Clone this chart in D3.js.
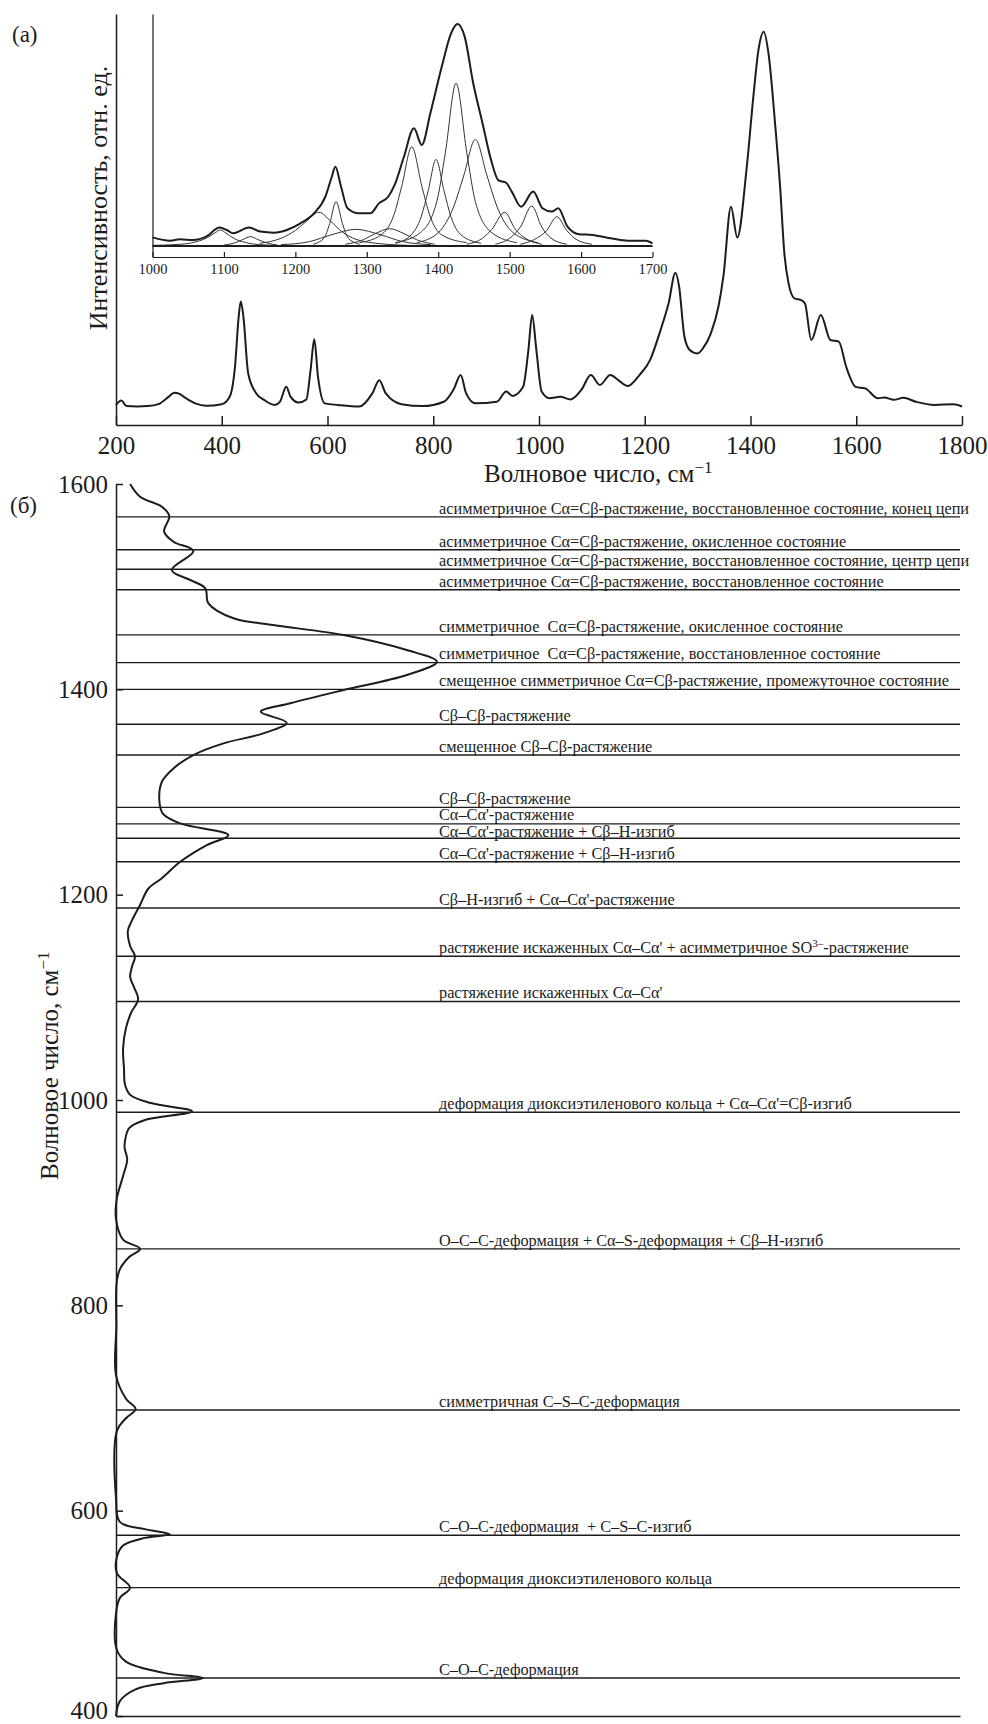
<!DOCTYPE html>
<html><head><meta charset="utf-8">
<script src="https://cdn.jsdelivr.net/npm/d3@7"></script>
<style>
body{margin:0;background:#fff;}
svg{display:block;font-family:"Liberation Serif","Times New Roman",serif;}
</style></head><body>
<svg id="c" width="988" height="1724"></svg>
<script>
// ---------- DATA ----------
// Panel (а): full Raman spectrum, [wavenumber, relative intensity]
const spectrumA = [
[200,5.1],[210,6.2],[220,4.8],[240,4.7],[260,4.8],[280,5.3],[300,7.2],[310,8.2],[320,7.9],[330,7.0],[350,5.5],[370,4.9],[400,5.3],[415,7.2],[425,14.8],[432,27.5],[436,31.4],[441,27.5],[450,13.1],[465,8.1],[480,6.4],[500,5.1],[510,5.9],[522,9.7],[530,7.2],[545,5.7],[560,6.5],[568,14.0],[575,21.8],[582,12.3],[595,5.5],[620,5.1],[660,4.7],[685,8.1],[698,11.4],[710,8.1],[740,5.3],[780,4.8],[820,5.9],[838,8.9],[852,12.7],[862,8.1],[880,5.5],[920,5.9],[938,8.5],[950,7.4],[970,9.7],[980,19.1],[987,28.0],[995,19.1],[1005,8.5],[1020,6.8],[1040,7.2],[1060,6.5],[1080,8.9],[1098,12.7],[1115,10.2],[1135,12.7],[1150,11.4],[1168,9.9],[1190,12.7],[1210,16.5],[1230,24.2],[1245,30.9],[1258,38.7],[1265,35.2],[1275,22.5],[1285,19.1],[1300,18.2],[1310,19.5],[1325,23.3],[1340,30.5],[1349,38.1],[1363,55.5],[1375,47.7],[1393,65.7],[1406,84.3],[1415,95.3],[1425,100],[1434,94.5],[1447,75.8],[1456,60.6],[1464,43.7],[1472,36.0],[1483,32.2],[1495,31.8],[1503,30.9],[1515,21.6],[1533,28.0],[1551,21.6],[1567,21.2],[1581,14.8],[1599,9.7],[1617,9.3],[1641,6.8],[1653,7.0],[1671,6.4],[1689,6.9],[1713,5.9],[1748,5.1],[1784,5.3],[1800,4.7]
];
const ticksA = [200,400,600,800,1000,1200,1400,1600,1800];

// Inset: measured spectrum 1000–1700
const insetSpectrum = [
[1000,3.9],[1025,2.4],[1038,3.0],[1057,2.7],[1075,4.2],[1094,8.3],[1104,7.2],[1113,5.7],[1135,8.3],[1151,6.5],[1170,6.0],[1188,7.2],[1207,10.2],[1226,14.7],[1242,22.2],[1251,31.2],[1256,35.7],[1264,26.7],[1273,17.0],[1289,14.7],[1305,14.7],[1317,19.2],[1330,22.2],[1339,27.5],[1352,40.2],[1366,53.0],[1377,45.5],[1389,59.8],[1405,80.8],[1418,95.8],[1427,100],[1437,94.3],[1449,73.3],[1462,55.3],[1474,38.7],[1484,29.7],[1495,28.5],[1503,24.5],[1516,17.7],[1533,24.5],[1546,17.0],[1559,15.5],[1568,17.0],[1581,8.7],[1597,5.3],[1616,5.0],[1641,3.5],[1666,2.4],[1691,2.4],[1700,1.2]
];
// Inset: fitted components
const comp1095 = [[1000,0.3],[1040,0.8],[1060,1.8],[1077,3.8],[1087,5.8],[1095,7.2],[1103,5.8],[1113,3.6],[1130,1.6],[1150,0.6],[1180,0.2]];
const comp1137 = [[1100,0.4],[1115,1.4],[1125,2.7],[1137,4.2],[1149,2.7],[1160,1.4],[1175,0.4]];
const comp1233 = [[1150,1.2],[1180,3.5],[1200,7],[1215,11],[1233,15.2],[1250,11],[1265,6.5],[1285,3],[1320,1],[1360,0.3]];
const comp1257 = [[1225,0.8],[1240,3.5],[1248,10],[1257,20],[1266,10],[1274,3.5],[1290,0.8]];
const comp1285 = [[1180,0.6],[1220,2],[1250,5],[1285,7.5],[1320,5],[1350,2],[1390,0.6]];
const comp1332 = [[1270,0.8],[1295,2.8],[1312,5.6],[1332,7.8],[1352,5.6],[1370,2.8],[1395,0.8]];
const comp1363 = [[1290,1.5],[1320,5],[1338,14],[1349,27],[1363,44.7],[1377,27],[1388,14],[1405,5],[1440,1.5]];
const comp1397 = [[1340,1.2],[1362,5],[1376,13],[1386,25],[1397,39],[1408,25],[1418,13],[1432,5],[1460,1.2]];
const comp1425 = [[1340,1.5],[1375,6],[1398,20],[1410,42],[1425,73.3],[1440,42],[1452,20],[1475,6],[1510,1.5]];
const comp1452 = [[1370,1.5],[1400,6],[1422,18],[1436,32],[1452,48],[1468,32],[1482,18],[1505,6],[1540,1.5]];
const comp1493 = [[1440,0.8],[1462,3.5],[1475,7.5],[1493,15.2],[1508,7.5],[1522,3.5],[1545,0.8]];
const comp1531 = [[1480,0.8],[1500,3.5],[1515,8.5],[1531,18],[1545,8.5],[1558,3.5],[1580,0.8]];
const comp1566 = [[1515,0.8],[1535,3],[1552,7],[1566,13.2],[1580,7],[1593,3],[1615,0.8]];
const insetComponents = [comp1095,comp1137,comp1233,comp1257,comp1285,comp1332,comp1363,comp1397,comp1425,comp1452,comp1493,comp1531,comp1566];
const ticksInset = [1000,1100,1200,1300,1400,1500,1600,1700];

// Panel (б): spectrum drawn sideways, [wavenumber, relative intensity]
const spectrumB = [
[1600,4.4],[1587.6,7.5],[1577.9,14.3],[1568.8,16.6],[1553.5,15.0],[1543.8,17.9],[1534.7,24.1],[1516.2,17.4],[1506.5,23.1],[1498.4,27.8],[1483.8,28.8],[1469.2,36.6],[1462.6,49.0],[1452.9,70.9],[1438.3,90.6],[1426.9,100],[1413.9,90.6],[1399.3,70.9],[1386.4,54.3],[1378.2,45.1],[1367.5,53.2],[1357.1,45.9],[1347.4,33.5],[1336,24.1],[1323,17.9],[1310,14.3],[1292,13.5],[1279,14.6],[1269.4,20.0],[1258,35.0],[1248.3,28.3],[1232,20.0],[1216,14.3],[1206,10.1],[1190,7.5],[1175,5.0],[1165,3.7],[1150,4.4],[1140,5.9],[1130,5.0],[1120,4.4],[1110,5.6],[1098,6.9],[1085,4.7],[1070,3.1],[1050,2.2],[1030,2.5],[1015,2.8],[1005,4.4],[997,10.9],[989,23.7],[980.5,9.0],[972.7,4.1],[960,2.8],[953,2.7],[942,3.5],[926,2.2],[903,0.2],[884,0],[864,2.2],[855,7.5],[847,4.1],[835,1.2],[822,0.2],[780,0.1],[732,0],[709,3.1],[699,6.1],[690,3.1],[678,0.3],[612,0],[589,1.2],[582,9.0],[577,16.8],[573.5,9.0],[566,2.2],[554,0.2],[539,0.3],[525,4.4],[515,1.2],[500,0],[465,0.2],[453,3.1],[442,14.9],[437,27.1],[432,14.9],[426,6.1],[414.5,1.2],[400,0]
];
const ticksB = [400,600,800,1000,1200,1400,1600];
// Band assignments
const assignWn = [1568,1536,1517,1497,1453,1426,1400,1366,1336,1285,1269,1255,1232,1187,1140,1096,988,855,698,576,525,437];
const assignText = [
"асимметричное Cα=Cβ-растяжение, восстановленное состояние, конец цепи",
"асимметричное Cα=Cβ-растяжение, окисленное состояние",
"асимметричное Cα=Cβ-растяжение, восстановленное состояние, центр цепи",
"асимметричное Cα=Cβ-растяжение, восстановленное состояние",
"симметричное  Cα=Cβ-растяжение, окисленное состояние",
"симметричное  Cα=Cβ-растяжение, восстановленное состояние",
"смещенное симметричное Cα=Cβ-растяжение, промежуточное состояние",
"Cβ–Cβ-растяжение",
"смещенное Cβ–Cβ-растяжение",
"Cβ–Cβ-растяжение",
"Cα–Cα'-растяжение",
"Cα–Cα'-растяжение + Cβ–H-изгиб",
"Cα–Cα'-растяжение + Cβ–H-изгиб",
"Cβ–H-изгиб + Cα–Cα'-растяжение",
"растяжение искаженных Cα–Cα' + асимметричное SO^{3–}-растяжение",
"растяжение искаженных Cα–Cα'",
"деформация диоксиэтиленового кольца + Cα–Cα'=Cβ-изгиб",
"O–C–C-деформация + Cα–S-деформация + Cβ–H-изгиб",
"симметричная C–S–C-деформация",
"C–O–C-деформация  + C–S–C-изгиб",
"деформация диоксиэтиленового кольца",
"C–O–C-деформация"
];

// ---------- DRAW ----------
const ink = "#1c1c1c";
const FONT = "'Liberation Serif','Times New Roman',serif";
const svg = d3.select("#c");
svg.append("rect").attr("width",988).attr("height",1724).attr("fill","#fff");

function styleAxis(g, fs, sw) {
  g.attr("font-family", FONT).attr("font-size", fs);
  g.select(".domain").attr("stroke", ink).attr("stroke-width", sw);
  g.selectAll(".tick line").attr("stroke", ink).attr("stroke-width", sw);
  g.selectAll(".tick text").attr("fill", ink);
}
// text with ^{superscript} parts
function addText(sel, str, supSize) {
  const parts = str.split(/\^\{(.*?)\}/);
  let pending = 0;
  parts.forEach((p, i) => {
    if (!p) return;
    if (i % 2 === 0) {
      const t = sel.append("tspan").text(p);
      if (pending) { t.attr("dy", pending); pending = 0; }
    } else {
      sel.append("tspan").attr("font-size", supSize).attr("dy", -supSize*0.55).text(p);
      pending = supSize*0.55;
    }
  });
}

// Panel а
const xA = d3.scaleLinear().domain([200,1800]).range([116,962]);
const yA = d3.scaleLinear().domain([0,104.5]).range([425,14]);

svg.append("g").attr("transform","translate(0,425)")
  .call(d3.axisBottom(xA).tickValues(ticksA).tickSizeInner(-9).tickSizeOuter(0).tickPadding(11).tickFormat(d3.format("d")))
  .call(g => styleAxis(g, 25, 1.5));
svg.append("g").attr("transform","translate(116,0)")
  .call(d3.axisLeft(yA).tickValues([]).tickSizeOuter(0))
  .call(g => styleAxis(g, 25, 1.5));

svg.append("path").datum(spectrumA)
  .attr("fill","none").attr("stroke",ink).attr("stroke-width",2).attr("stroke-linejoin","round")
  .attr("d", d3.line().x(d=>xA(d[0])).y(d=>yA(d[1])).curve(d3.curveMonotoneX));

svg.append("text").attr("x",12).attr("y",42).attr("font-family",FONT).attr("font-size",23).attr("fill",ink).text("(а)");
svg.append("text").attr("transform","translate(107,198) rotate(-90)").attr("text-anchor","middle")
  .attr("font-family",FONT).attr("font-size",26).attr("fill",ink).text("Интенсивность, отн. ед.");
const titleA = svg.append("text").attr("x",484).attr("y",482).attr("font-family",FONT).attr("font-size",25).attr("fill",ink);
addText(titleA, "Волновое число, см^{−1}", 17);

// Inset
const xI = d3.scaleLinear().domain([1000,1700]).range([152.5,652.5]);
const yI = d3.scaleLinear().domain([-4.95,104.5]).range([257,14]);
svg.append("g").attr("transform","translate(0,257)")
  .call(d3.axisBottom(xI).tickValues(ticksInset).tickSizeInner(-5).tickSizeOuter(0).tickPadding(6.5).tickFormat(d3.format("d")))
  .call(g => styleAxis(g, 14.5, 1.2));
svg.append("g").attr("transform","translate(152.5,0)")
  .call(d3.axisLeft(yI).tickValues([]).tickSizeOuter(0))
  .call(g => styleAxis(g, 14.5, 1.2));
const lineI = d3.line().x(d=>xI(d[0])).y(d=>yI(d[1])).curve(d3.curveMonotoneX);
svg.append("g").selectAll("path").data(insetComponents).join("path")
  .attr("fill","none").attr("stroke","#333").attr("stroke-width",1).attr("d", lineI);
svg.append("line").attr("x1",xI(1000)).attr("x2",xI(1700)).attr("y1",yI(0)).attr("y2",yI(0))
  .attr("stroke",ink).attr("stroke-width",2);
svg.append("path").datum(insetSpectrum)
  .attr("fill","none").attr("stroke",ink).attr("stroke-width",2).attr("stroke-linejoin","round").attr("d", lineI);

// Panel б
const yB = d3.scaleLinear().domain([400,1600]).range([1716,484]);
const xB = d3.scaleLinear().domain([0,263]).range([116,960]);
svg.append("g").attr("transform","translate(116,0)")
  .call(d3.axisLeft(yB).tickValues(ticksB).tickSizeInner(-7).tickSizeOuter(0).tickPadding(8).tickFormat(d3.format("d")))
  .call(g => styleAxis(g, 25, 1.5))
  .call(g => g.selectAll(".tick text").filter(d => d === 400).attr("dy","0.08em"));
svg.append("g").attr("transform","translate(0,1716)")
  .call(d3.axisBottom(xB).tickValues([]).tickSizeOuter(0))
  .call(g => styleAxis(g, 25, 1.5));

svg.append("g").selectAll("line").data(assignWn).join("line")
  .attr("x1", xB(0)).attr("x2", xB(263)).attr("y1", d=>yB(d)).attr("y2", d=>yB(d))
  .attr("stroke", ink).attr("stroke-width", 1.4);

svg.append("path").datum(spectrumB)
  .attr("fill","none").attr("stroke",ink).attr("stroke-width",2).attr("stroke-linejoin","round")
  .attr("d", d3.line().x(d=>xB(d[1])).y(d=>yB(d[0])).curve(d3.curveCatmullRom.alpha(0.5)));

const lab = svg.append("g").attr("font-family",FONT).attr("font-size",16.3).attr("fill",ink);
assignWn.forEach((wn,i) => {
  // label sits just above its line; tighter when the line above is very close
  const gapAbove = i > 0 ? yB(wn) - yB(assignWn[i-1]) : 99;
  const off = gapAbove < 16 ? -1.0 : (i < assignWn.length-1 && yB(assignWn[i+1]) - yB(wn) < 16 ? -4.0 : -3.2);
  const t = lab.append("text").attr("x",439).attr("y", yB(wn)+off).style("white-space","pre");
  addText(t, assignText[i], 11);
});

svg.append("text").attr("x",10).attr("y",513).attr("font-family",FONT).attr("font-size",23).attr("fill",ink).text("(б)");
const titleB = svg.append("text").attr("transform","translate(58,1180) rotate(-90)")
  .attr("font-family",FONT).attr("font-size",25).attr("fill",ink);
addText(titleB, "Волновое число, см^{−1}", 17);
</script>
</body></html>
